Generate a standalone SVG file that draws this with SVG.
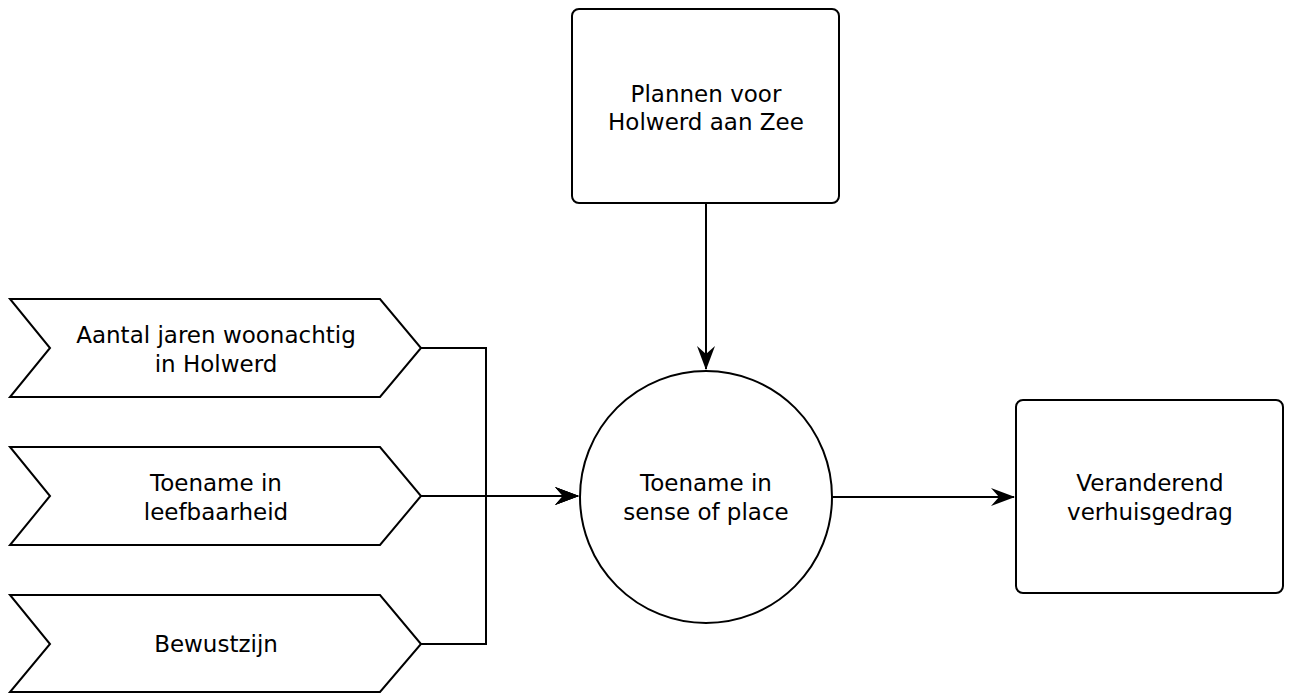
<svg xmlns="http://www.w3.org/2000/svg" width="1291" height="693" viewBox="0 0 1291 693">
<defs>
<style>
.s{fill:#fff;stroke:#000;stroke-width:2}
.t{font-family:"DejaVu Sans",sans-serif;font-size:23px;fill:#000;text-anchor:middle}
.c{fill:none;stroke:#000;stroke-width:2}
</style>
<marker id="a" markerWidth="24" markerHeight="20" refX="23" refY="10" orient="auto" markerUnits="userSpaceOnUse">
<path d="M0,1 L24,10 L0,19 L8,10 Z" fill="#000"/>
</marker>
</defs>
<rect width="1291" height="693" fill="#fff"/>
<g id="plannen">
<rect class="s" x="572" y="9" width="267" height="194" rx="7"/>
<text class="t" x="706" y="102">Plannen voor</text>
<text class="t" x="706" y="130">Holwerd aan Zee</text>
</g>
<g id="aantal">
<path class="s" d="M10,299 L380,299 L421,348 L380,397 L10,397 L50,348 Z"/>
<text class="t" x="216" y="343">Aantal jaren woonachtig</text>
<text class="t" x="216" y="372">in Holwerd</text>
</g>
<g id="leefbaarheid">
<path class="s" d="M10,447 L380,447 L421,496 L380,545 L10,545 L50,496 Z"/>
<text class="t" x="216" y="491">Toename in</text>
<text class="t" x="216" y="520">leefbaarheid</text>
</g>
<g id="bewustzijn">
<path class="s" d="M10,595 L380,595 L421,644 L380,692 L10,692 L50,644 Z"/>
<text class="t" x="216" y="652">Bewustzijn</text>
</g>
<g id="sense">
<circle class="s" cx="706" cy="497" r="126"/>
<text class="t" x="706" y="491">Toename in</text>
<text class="t" x="706" y="520">sense of place</text>
</g>
<g id="verhuis">
<rect class="s" x="1016" y="400" width="267" height="193" rx="7"/>
<text class="t" x="1150" y="491">Veranderend</text>
<text class="t" x="1150" y="520">verhuisgedrag</text>
</g>
<g id="connectors">
<path class="c" d="M421,348 L486,348 L486,496 L578,496" marker-end="url(#a)"/>
<path class="c" d="M421,644 L486,644 L486,496 L578,496" marker-end="url(#a)"/>
<path class="c" d="M421,496 L578,496" marker-end="url(#a)"/>
<path class="c" d="M706,203 L706,369" marker-end="url(#a)"/>
<path class="c" d="M832,497 L1014,497" marker-end="url(#a)"/>
</g>
</svg>
